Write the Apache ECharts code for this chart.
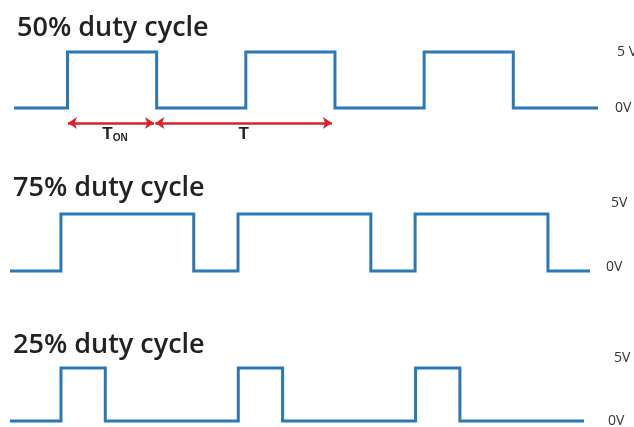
<!DOCTYPE html>
<html>
<head>
<meta charset="utf-8">
<script src="https://cdn.jsdelivr.net/npm/echarts@6/dist/echarts.min.js"></script>
<style>
  html, body { margin: 0; padding: 0; background: #fff; }
  #main { width: 634px; height: 427px; }
</style>
</head>
<body>
<div id="main"></div>
<script>
// titles of the three panels
var titles = ['50% duty cycle', '75% duty cycle', '25% duty cycle'];

// switching instants (time units, one period = 4), signal starts low
var edges50 = [1.2, 3.2, 5.2, 7.2, 9.2, 11.2];
var edges75 = [1.15, 4.15, 5.15, 8.15, 9.15, 12.15];
var edges25 = [1.15, 2.15, 5.15, 6.15, 9.15, 10.15];
var timeEnd = [13.1, 13.1, 12.95];

// voltage levels and tick labels
var levels = [0, 5];
var tickLabels = [['0V', '5 V'], ['0V', '5V'], ['0V', '5V']];

// arrows under the first trace (same time units as edges50)
var tOn = [1.21, 3.14];
var tPeriod = [3.17, 7.13];

var BLUE = '#2b79b4';
var RED = '#d8232a';

// 把跳变时刻转成方波的点
function buildWave(edges, end) {
    var pts = [[0, levels[0]]];
    var lv = 0;
    for (var i = 0; i < edges.length; i++) {
        pts.push([edges[i], levels[lv]]);
        lv = 1 - lv;
        pts.push([edges[i], levels[lv]]);
    }
    pts.push([end, levels[lv]]);
    return pts;
}

var waves = [buildWave(edges50, timeEnd[0]), buildWave(edges75, timeEnd[1]), buildWave(edges25, timeEnd[2])];

var grids = [
    { left: 14, width: 584, top: 52, height: 56, outerBoundsMode: 'none' },
    { left: 10, width: 580, top: 214, height: 57, outerBoundsMode: 'none' },
    { left: 10, width: 574, top: 368, height: 53, outerBoundsMode: 'none' },
    // strip for the T_ON / T arrows
    { left: 14, width: 584, top: 113, height: 20, outerBoundsMode: 'none' }
];
var labelMargin = [17, 16, 24];
var titleTop = [10, 170, 327];
var titleLeft = [12, 8, 8];
// rich padding of the 5V / 0V labels, nudging them off the level line
var hiPad = [[0, 0, 0, 2], [0, 0, 22, 5], [0, 0, 20, 6]];
var loPad = [[0, 0, 0, 0], [0, 0, 8, 0], [0, 0, 0, 0]];

var option = {
    animation: false,
    backgroundColor: '#fff',
    title: [],
    grid: grids,
    xAxis: [],
    yAxis: [],
    series: []
};

for (var k = 0; k < 3; k++) {
    option.title.push({
        text: titles[k],
        left: titleLeft[k],
        top: titleTop[k],
        textStyle: { fontFamily: 'Open Sans', fontSize: 27, fontWeight: 600, color: '#222' }
    });
    option.xAxis.push({
        type: 'value', gridIndex: k, min: 0, max: timeEnd[k],
        show: false
    });
    (function (idx) {
        option.yAxis.push({
            type: 'value', gridIndex: idx, min: 0, max: 5, interval: 5,
            position: 'right',
            axisLine: { show: false }, axisTick: { show: false }, splitLine: { show: false },
            axisLabel: {
                margin: labelMargin[idx],
                formatter: function (v) {
                    return v === 5 ? '{hi|' + tickLabels[idx][1] + '}' : '{lo|' + tickLabels[idx][0] + '}';
                },
                rich: {
                    hi: { padding: hiPad[idx], fontSize: 14, color: '#333', fontFamily: 'Open Sans' },
                    lo: { padding: loPad[idx], fontSize: 14, color: '#333', fontFamily: 'Open Sans' }
                }
            }
        });
    })(k);
    option.series.push({
        type: 'line',
        xAxisIndex: k, yAxisIndex: k,
        data: waves[k],
        showSymbol: false,
        clip: false,
        lineStyle: { color: BLUE, width: 3, join: 'miter' }
    });
}

// arrow strip axes
option.xAxis.push({ type: 'value', gridIndex: 3, min: 0, max: timeEnd[0], show: false });
option.yAxis.push({ type: 'value', gridIndex: 3, min: 0, max: 1, show: false });

// T_ON 和 T 的双向箭头
option.series.push({
    type: 'line',
    xAxisIndex: 3, yAxisIndex: 3,
    data: [],
    markLine: {
        silent: true,
        symbol: ['arrow', 'arrow'],
        symbolSize: [9, 9],
        lineStyle: { color: RED, width: 2.5, type: 'solid' },
        label: {
            show: true,
            position: 'insideMiddleBottom',
            distance: 3,
            rich: {
                t: { fontSize: 17, fontWeight: 'bold', color: '#222', fontFamily: 'Liberation Sans' },
                s: { fontSize: 10, fontWeight: 'bold', color: '#222', fontFamily: 'Liberation Sans', padding: [7, 0, 0, 0] }
            }
        },
        data: [
            [{ coord: [tOn[0], 0.5], label: { formatter: '{t|T}{s|ON}', padding: [0, 0, 0, 8] } }, { coord: [tOn[1], 0.5] }],
            [{ coord: [tPeriod[0], 0.5], label: { formatter: '{t|T}' } }, { coord: [tPeriod[1], 0.5] }]
        ]
    }
});

var chart = echarts.init(document.getElementById('main'));
chart.setOption(option);
</script>
</body>
</html>
